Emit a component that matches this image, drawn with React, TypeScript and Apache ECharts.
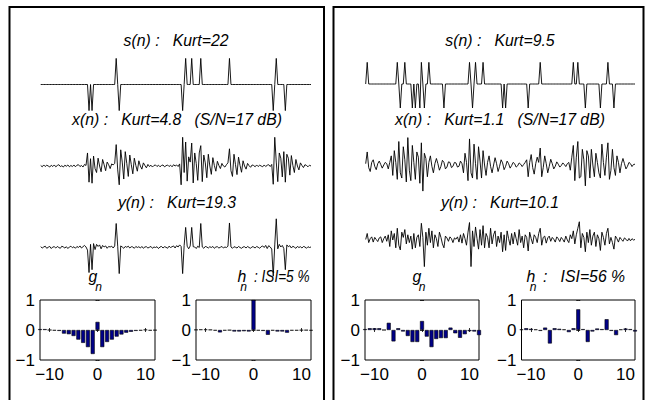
import React, { useEffect, useRef } from "react";
import * as echarts from "echarts";

const N = 180;

// source spikes [sample index, amplitude]
const sLeftSpikes = [
  [32, -1], [34, -1], [50, 1], [52, -1], [94, -1], [96, 1], [100, 1], [106, 1],
  [125, 1], [154, -1], [156, 1], [162, -1],
];
const sRightSpikes = [
  [1, 0.83], [21, 0.83], [23, -0.92], [26, 0.83], [31, -0.92], [33, -0.92], [36, -0.92],
  [37, 0.83], [39, -0.92], [42, 0.83], [52, -0.92], [69, 0.83], [71, -0.92], [73, 0.83],
  [78, 0.83], [91, -0.92], [93, -0.92], [108, -0.92], [116, 0.83], [138, 0.83], [141, 0.83],
  [146, -0.92], [156, -0.92], [161, 0.83], [165, -0.92],
];

const xLeft = [
  0.02, -0.03, 0.04, -0.02, 0.03, 0.0, -0.04, 0.03, -0.02, 0.04, -0.03, 0.02, 0.05, -0.02, 0.01, -0.04, 0.03, -0.01, 0.04, -0.03,
  0.02, -0.02, 0.04, -0.03, 0.03, 0.05, -0.02, 0.02, -0.04, 0.06, 0.02, 0.5, -0.62, 0.28, -0.66, 0.38, -0.1, -0.25, 0.3, 0.0,
  -0.22, 0.25, 0.05, -0.18, 0.15, 0.05, -0.1, 0.08, 0.04, 0.1, 0.82, -0.15, -0.72, 0.62, 0.15, -0.5, 0.55, 0.1, -0.4, 0.42,
  0.05, -0.3, 0.3, 0.02, -0.2, 0.2, 0.0, -0.12, 0.12, 0.02, -0.07, 0.06, -0.02, 0.03, -0.04, 0.02, 0.04, -0.02, 0.03, -0.03,
  0.02, 0.04, -0.03, 0.01, 0.04, -0.02, 0.03, -0.03, 0.05, 0.0, 0.04, -0.02, 0.08, -0.72, 1.1, -0.25, 0.92, -0.58, 0.35, 0.15,
  0.88, -0.65, 0.5, 0.1, -0.55, 0.5, 0.78, -0.6, 0.42, 0.12, -0.45, 0.45, 0.0, -0.32, 0.32, 0.02, -0.2, 0.18, 0.02, -0.1,
  0.1, 0.0, -0.04, 0.05, 0.12, 0.66, -0.18, -0.4, 0.45, 0.05, -0.33, 0.34, 0.02, -0.24, 0.2, 0.0, -0.12, 0.1, 0.01, -0.05,
  0.04, 0.02, -0.03, 0.04, -0.02, 0.03, 0.0, -0.03, 0.04, -0.02, 0.03, 0.05, -0.02, 0.06, -0.7, 1.1, 0.15, -0.6, 0.5, 0.3,
  -0.42, 0.55, -0.62, 0.45, 0.3, -0.35, 0.4, 0.02, -0.25, 0.25, 0.0, -0.15, 0.12, 0.02, -0.06, 0.05, 0.02, -0.03, 0.03, 0.0,
];

const yLeft = [
  0.03, -0.02, 0.02, 0.05, -0.03, 0.01, 0.04, -0.04, 0.02, 0.03, -0.02, 0.04, 0.0, -0.03, 0.05, 0.02, -0.02, 0.03, -0.04, 0.02,
  0.05, -0.01, 0.03, -0.03, 0.04, 0.0, 0.06, -0.02, 0.03, 0.08, 0.02, -0.1, -0.96, 0.12, -0.85, 0.15, -0.08, 0.12, 0.04, 0.1,
  -0.05, 0.08, 0.02, 0.06, -0.03, 0.04, 0.02, 0.05, -0.02, 0.06, 0.92, 0.05, -1.0, 0.06, 0.02, -0.03, 0.04, 0.01, 0.05, -0.02,
  0.03, 0.02, -0.03, 0.04, 0.0, 0.03, -0.02, 0.04, -0.03, 0.02, 0.03, -0.02, 0.01, 0.04, -0.03, 0.02, 0.0, 0.03, -0.04, 0.02,
  0.04, -0.02, 0.03, 0.01, -0.03, 0.05, 0.0, 0.03, 0.06, -0.02, 0.07, 0.02, 0.1, 0.04, -1.0, 0.08, 0.77, 0.05, -0.05, 0.06,
  0.77, 0.03, 0.02, -0.04, 0.05, 0.0, 0.92, 0.02, -0.03, 0.04, 0.02, -0.02, 0.03, 0.0, 0.04, -0.03, 0.02, 0.03, -0.02, 0.01,
  0.04, -0.02, 0.02, 0.0, 0.05, 0.94, 0.02, -0.03, 0.03, 0.01, -0.02, 0.04, 0.0, -0.03, 0.02, 0.03, -0.02, 0.04, 0.0, -0.03,
  0.03, 0.02, -0.02, 0.04, 0.01, -0.03, 0.03, 0.06, 0.0, 0.08, -0.04, 0.07, 0.02, -0.06, -1.1, 0.1, 1.1, -0.05, 0.12, 0.02,
  0.08, -0.04, -0.85, 0.1, 0.03, 0.07, -0.02, 0.05, 0.01, -0.03, 0.04, 0.0, 0.03, -0.02, 0.04, 0.02, -0.03, 0.03, 0.0, 0.02,
];

const xRight = [
  0.05, 0.5, -0.1, -0.25, 0.1, 0.2, -0.05, -0.18, 0.05, 0.15, 0.02, -0.12, 0.0, 0.1, 0.05, -0.15, 0.1, 0.35, -0.4, 0.55,
  0.1, -0.55, 0.9, -0.3, -0.5, 0.7, 0.2, -0.65, 1.05, -0.2, -0.6, 0.75, 0.1, -0.55, 0.5, 0.3, -0.7, 0.85, -1.0, 0.45,
  0.25, -0.45, 0.1, 0.35, -0.05, -0.3, 0.05, 0.25, 0.05, -0.2, -0.05, 0.18, 0.1, -0.15, -0.08, 0.12, 0.1, -0.1, -0.05, 0.1,
  0.08, -0.08, -0.05, 0.15, 0.05, -0.3, 0.45, 0.1, -0.6, 1.0, -0.3, -0.5, 0.8, 0.05, -0.55, 0.7, 0.15, -0.5, 0.55, 0.0,
  -0.4, 0.1, 0.35, -0.05, -0.3, 0.0, 0.28, 0.05, -0.25, -0.05, 0.2, 0.08, -0.18, -0.05, 0.15, 0.05, -0.12, -0.02, 0.1, 0.05,
  -0.08, -0.03, 0.08, 0.03, -0.06, 0.02, 0.1, 0.2, -0.45, 0.1, 0.4, -0.1, -0.35, 0.05, 0.3, 0.1, 0.65, -0.45, -0.1, 0.35,
  0.05, -0.3, -0.05, 0.22, 0.05, -0.15, -0.05, 0.12, 0.03, -0.08, -0.02, 0.08, 0.02, -0.06, 0.05, 0.1, -0.2, 0.3, 0.75, -0.6,
  0.3, 0.9, -0.5, -0.45, 0.6, 0.2, -0.8, 0.55, 0.35, -0.5, 0.6, 0.0, -0.45, 0.45, 0.1, -0.3, -0.5, 0.8, 0.1, -0.4,
  0.3, 0.85, -0.55, -0.2, 0.6, -0.1, -0.4, 0.35, 0.1, -0.3, 0.05, 0.25, 0.05, -0.15, -0.05, 0.1, 0.05, -0.06, 0.02, 0.03,
];

const yRight = [
  0.02, 0.25, -0.1, 0.05, 0.12, -0.08, 0.1, 0.02, -0.06, 0.08, 0.12, -0.1, 0.05, 0.15, -0.05, 0.2, -0.25, 0.35, 0.0, 0.25,
  -0.3, 0.45, -0.2, -0.38, 0.3, 0.1, 0.4, -0.15, 0.2, -0.1, 0.15, -0.35, 0.25, -0.3, 0.1, 0.2, -0.25, 0.64, 0.1, -1.02,
  0.3, -0.2, 0.45, -0.1, 0.35, -0.3, 0.2, 0.05, -0.25, 0.3, 0.1, -0.15, -0.3, 0.15, 0.08, -0.05, 0.12, 0.05, -0.1, 0.08,
  0.03, 0.12, -0.08, 0.2, -0.12, 0.25, 0.05, -0.2, 0.3, 0.67, -1.02, 0.35, -0.25, 0.5, 0.05, -0.35, 0.4, -0.2, 0.55, -0.3,
  0.25, 0.1, -0.3, 0.45, -0.15, 0.2, 0.35, -0.25, 0.15, -0.1, 0.3, -0.45, 0.2, -0.4, 0.35, 0.05, -0.2, 0.25, -0.15, 0.3,
  0.05, -0.2, 0.4, -0.1, 0.15, -0.3, 0.2, 0.1, -0.42, 0.3, 0.05, -0.15, 0.2, 0.1, -0.1, 0.25, 0.45, -0.2, 0.1, 0.15,
  -0.12, 0.08, 0.15, -0.05, 0.1, 0.03, -0.08, 0.12, 0.05, -0.06, 0.1, 0.02, -0.08, 0.15, 0.0, -0.1, 0.2, 0.05, 0.35, -0.15,
  0.2, 0.45, 0.7, -0.3, 0.25, 0.1, -0.45, 0.3, -0.1, 0.4, -0.2, 0.15, 0.3, -0.25, 0.2, 0.05, -0.4, 0.3, 0.1, -0.2,
  0.25, 0.45, -0.15, 0.1, -0.1, -0.35, 0.15, 0.05, -0.08, 0.1, 0.02, -0.05, 0.08, 0.03, -0.04, 0.06, -0.03, 0.05, 0.0, 0.02,
];

const lags = [-12, -11, -10, -9, -8, -7, -6, -5, -4, -3, -2, -1, 0, 1, 2, 3, 4, 5, 6, 7, 8, 9, 10, 11, 12];
const gLeft = [0.03, 0.03, 0.0, -0.02, -0.03, -0.12, -0.14, -0.2, -0.32, -0.43, -0.57, -0.8, 0.27, -0.57, -0.4, -0.32, -0.22, -0.15, -0.09, -0.06, -0.03, -0.02, 0.01, -0.02, -0.01];
const hLeft = [0.01, 0.02, 0.02, 0.01, -0.02, -0.08, -0.02, -0.01, -0.05, -0.05, -0.04, -0.05, 1.0, -0.02, -0.03, -0.16, -0.02, -0.05, -0.05, -0.09, -0.02, -0.02, -0.01, -0.01, -0.02];
const gRight = [0.03, 0.06, 0.06, 0.06, 0.0, 0.24, -0.38, 0.06, -0.05, -0.2, -0.4, -0.4, 0.3, -0.22, -0.57, -0.3, -0.27, -0.27, 0.08, -0.11, -0.26, -0.14, -0.04, -0.05, -0.17];
const hRight = [0.02, 0.06, 0.04, 0.02, -0.03, 0.08, -0.45, 0.06, 0.04, 0.02, -0.07, 0.06, 0.69, 0.03, -0.4, -0.05, 0.05, 0.03, 0.36, -0.03, -0.17, 0.02, 0.05, 0.03, -0.05];

const lagTicks = [-10, 0, 10];

const FONT = "'Liberation Sans', Arial, Helvetica, sans-serif";

function spikesToSignal(sp: number[][]) {
  const a = new Array(N).fill(0);
  sp.forEach(([i, v]) => { a[i] = v; });
  return a;
}

const minus = (v: number) => (v < 0 ? "\u2212" + String(-v) : String(v));

export default function App() {
  const ref = useRef<HTMLDivElement>(null);
  useEffect(() => {
    if (!ref.current) return;
    const chart = echarts.init(ref.current, undefined, { renderer: "svg" });

    const traces = [
      { data: spikesToSignal(sLeftSpikes), left: 40.7, width: 270.3, base: 84.5 },
      { data: xLeft, left: 40.7, width: 270.3, base: 166 },
      { data: yLeft, left: 40.7, width: 270.3, base: 247.5 },
      { data: spikesToSignal(sRightSpikes), left: 365.7, width: 269.3, base: 84 },
      { data: xRight, left: 365.7, width: 269.3, base: 165 },
      { data: yRight, left: 365.7, width: 269.3, base: 240 },
    ];
    const bars = [
      { data: gLeft, left: 40, width: 115 },
      { data: hLeft, left: 196, width: 115 },
      { data: gRight, left: 365, width: 114 },
      { data: hRight, left: 521.5, width: 113.5 },
    ];

    const grid: any[] = [];
    const xAxis: any[] = [];
    const yAxis: any[] = [];
    const series: any[] = [];

    traces.forEach((t, k) => {
      grid.push({ left: t.left, top: t.base - 30, width: t.width, height: 60 });
      xAxis.push({ type: "value", gridIndex: k, min: 0, max: N - 1, show: false });
      yAxis.push({ type: "value", gridIndex: k, min: -1.15, max: 1.15, show: false });
      series.push({
        type: "line",
        xAxisIndex: k,
        yAxisIndex: k,
        data: t.data.map((v, i) => [i, v]),
        showSymbol: false,
        symbol: "none",
        silent: true,
        clip: false,
        lineStyle: { color: "#000", width: 0.9 },
      });
    });

    bars.forEach((b, j) => {
      const gi = traces.length + j;
      grid.push({
        left: b.left, top: 300, width: b.width, height: 60,
        show: true, borderColor: "#000", borderWidth: 1, backgroundColor: "transparent",
      });
      const tickStyle = { inside: true, length: 2, lineStyle: { color: "#000", width: 0.8 } };
      xAxis.push({
        type: "value", gridIndex: gi, position: "bottom", min: -12, max: 12,
        axisLine: { show: false },
        splitLine: { show: false },
        axisTick: { ...tickStyle, customValues: lagTicks },
        axisLabel: {
          customValues: lagTicks, formatter: minus, color: "#000",
          fontSize: 17, fontFamily: FONT, margin: 6,
        },
      });
      xAxis.push({
        type: "value", gridIndex: gi, position: "top", min: -12, max: 12,
        axisLine: { show: false },
        splitLine: { show: false },
        axisTick: { ...tickStyle, customValues: lagTicks },
        axisLabel: { show: false },
      });
      yAxis.push({
        type: "value", gridIndex: gi, position: "left", min: -1, max: 1, interval: 1,
        axisLine: { show: false },
        splitLine: { show: false },
        axisTick: tickStyle,
        axisLabel: { formatter: minus, color: "#000", fontSize: 17, fontFamily: FONT, margin: 5 },
      });
      yAxis.push({
        type: "value", gridIndex: gi, position: "right", min: -1, max: 1, interval: 1,
        axisLine: { show: false },
        splitLine: { show: false },
        axisTick: tickStyle,
        axisLabel: { show: false },
      });
      series.push({
        type: "bar",
        xAxisIndex: 6 + 2 * j,
        yAxisIndex: 6 + 2 * j,
        data: b.data.map((v, i) => [lags[i], v]),
        barWidth: 4,
        silent: true,
        itemStyle: { color: "#000088", borderColor: "#000", borderWidth: 0.6 },
      });
    });

    const txt = (text: string, x: number, y: number, size: number, align: string = "center", sx: number = 0.93) => ({
      type: "text",
      x, y, scaleX: sx,
      silent: true,
      style: {
        text, fill: "#000", textAlign: align, textVerticalAlign: "middle",
        font: `italic ${size}px ${FONT}`,
      },
    });

    const graphic: any[] = [
      { type: "rect", silent: true, shape: { x: 9.5, y: 7, width: 314.5, height: 420 }, style: { fill: "none", stroke: "#000", lineWidth: 2 } },
      { type: "rect", silent: true, shape: { x: 333.5, y: 7, width: 310, height: 420 }, style: { fill: "none", stroke: "#000", lineWidth: 2 } },
      txt("s(n) :   Kurt=22", 176, 40, 17),
      txt("x(n) :   Kurt=4.8   (S/N=17 dB)", 177, 119, 17),
      txt("y(n) :   Kurt=19.3", 177, 202, 17),
      txt("s(n) :   Kurt=9.5", 500, 40, 17),
      txt("x(n) :   Kurt=1.1   (S/N=17 dB)", 500, 119, 17),
      txt("y(n) :   Kurt=10.1", 500, 202, 17),
      txt("g", 93, 276, 17),
      txt("n", 98.5, 287, 13),
      txt("h", 242, 276, 17),
      txt("n", 243.5, 287, 13),
      txt(": ISI=5 %", 254, 276, 17, "left", 0.8),
      txt("g", 417, 276, 17),
      txt("n", 422, 287, 13),
      txt("h", 531, 276, 17),
      txt("n", 533, 287, 13),
      txt(":   ISI=56 %", 543, 276, 17, "left"),
    ];

    chart.setOption({
      animation: false,
      backgroundColor: "#fff",
      grid, xAxis, yAxis, series, graphic,
    });
    return () => chart.dispose();
  }, []);

  return (
    <div
      ref={ref}
      style={{ position: "fixed", left: 0, top: 0, width: 647, height: 400, background: "#fff" }}
    />
  );
}
